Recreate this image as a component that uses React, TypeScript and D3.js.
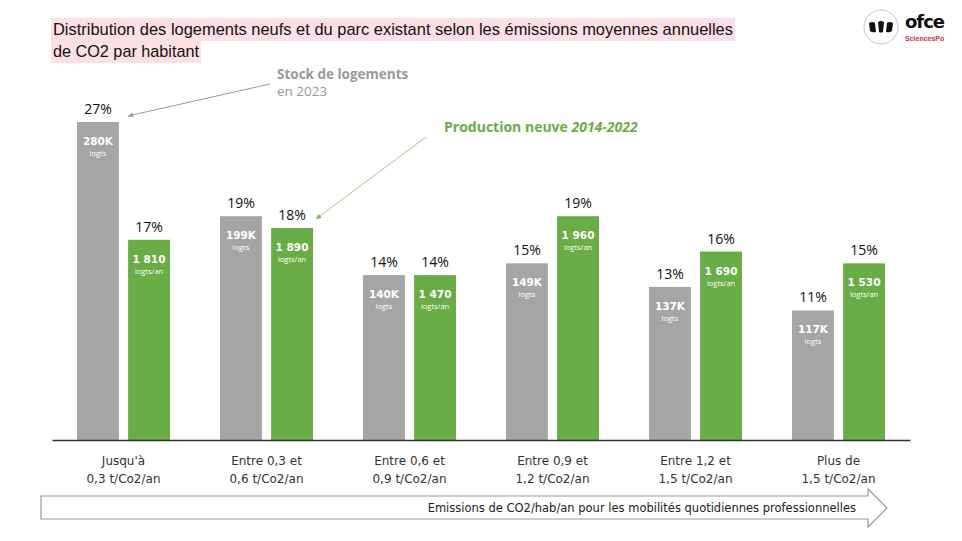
import React, { useEffect, useRef } from "react";
import { select, scaleBand, scaleLinear, axisBottom } from "d3";

// tranches d'émissions (t CO2 / hab / an, mobilités domicile-travail)
const categories = ["c1", "c2", "c3", "c4", "c5", "c6"];
const catLine1 = ["Jusqu'à", "Entre 0,3 et", "Entre 0,6 et", "Entre 0,9 et", "Entre 1,2 et", "Plus de"];
const catLine2 = ["0,3 t/Co2/an", "0,6 t/Co2/an", "0,9 t/Co2/an", "1,2 t/Co2/an", "1,5 t/Co2/an", "1,5 t/Co2/an"];

// parc existant 2023
const stockPct = [27, 19, 14, 15, 13, 11];
const stockCount = ["280K", "199K", "140K", "149K", "137K", "117K"];

// production neuve 2014-2022
const newPct = [17, 18, 14, 19, 16, 15];
const newCount = ["1 810", "1 890", "1 470", "1 960", "1 690", "1 530"];

const GRAY = "#a5a5a5";
const GREEN = "#6aac46";
const FONT = "'Open Sans', 'Noto Sans', sans-serif";
const WIDE = "'DejaVu Sans', sans-serif";

const App = () => {
  const svgRef = useRef<SVGSVGElement>(null);

  useEffect(() => {
    const svg = select(svgRef.current);
    svg.selectAll("*").remove();

    const x = scaleBand().domain(categories).range([52, 910]).paddingInner(0.35).paddingOuter(0.175);
    const sub = scaleBand().domain(["stock", "neuf"]).range([0, x.bandwidth()]).paddingInner(0.18);
    const y = scaleLinear().domain([0, 27]).range([440, 122]);

    // titre surligné
    const title = svg.append("g");
    title.append("rect").attr("x", 51).attr("y", 18).attr("width", 684).attr("height", 23).attr("fill", "#fde0e6");
    title.append("rect").attr("x", 51).attr("y", 41).attr("width", 150).attr("height", 22).attr("fill", "#fde0e6");
    title
      .append("text")
      .attr("x", 53)
      .attr("y", 35)
      .attr("textLength", 680)
      .attr("lengthAdjust", "spacingAndGlyphs")
      .style("font", "17px 'Liberation Sans Narrow', 'Liberation Sans', sans-serif")
      .attr("fill", "#111")
      .text("Distribution des logements neufs et du parc existant selon les émissions moyennes annuelles");
    title
      .append("text")
      .attr("x", 53)
      .attr("y", 57)
      .attr("textLength", 146)
      .attr("lengthAdjust", "spacingAndGlyphs")
      .style("font", "17px 'Liberation Sans Narrow', 'Liberation Sans', sans-serif")
      .attr("fill", "#111")
      .text("de CO2 par habitant");

    // logo
    const logo = svg.append("g");
    logo.append("circle").attr("cx", 881).attr("cy", 27).attr("r", 17).attr("fill", "white").attr("stroke", "#c8c8c8");
    logo
      .append("path")
      .attr(
        "d",
        "M869,23 Q872,21 875,23 L876,32 Q872,33 870,31 Z M878,22 Q881,20 884,22 L883,32 Q881,33 879,32 Z M887,23 Q890,21 893,23 L892,31 Q890,33 886,32 Z"
      )
      .attr("fill", "#111");
    logo
      .append("text")
      .attr("x", 905)
      .attr("y", 28)
      .style("font", "bold 18px 'DejaVu Sans', sans-serif")
      .attr("letter-spacing", -1)
      .attr("fill", "#111")
      .text("ofce");
    logo
      .append("text")
      .attr("x", 905)
      .attr("y", 41)
      .style("font", "bold 7px 'Liberation Sans', sans-serif")
      .attr("fill", "#e2264d")
      .text("SciencesPo");

    // flèches d'annotation
    const defs = svg.append("defs");
    const mk = (id: string, color: string) =>
      defs
        .append("marker")
        .attr("id", id)
        .attr("viewBox", "0 0 10 10")
        .attr("refX", 9)
        .attr("refY", 5)
        .attr("markerWidth", 6)
        .attr("markerHeight", 6)
        .attr("orient", "auto")
        .append("path")
        .attr("d", "M0,1 L10,5 L0,9 Z")
        .attr("fill", color);
    mk("ahGray", "#999");
    mk("ahGreen", "#7fb85a");

    // barres
    const groups = svg
      .selectAll(".grp")
      .data(categories)
      .join("g")
      .attr("class", "grp")
      .attr("transform", (d) => `translate(${x(d)},0)`);

    const drawSeries = (
      key: string,
      color: string,
      pct: number[],
      count: string[],
      unit: string
    ) => {
      const g = groups.append("g");
      g.append("rect")
        .attr("x", sub(key)!)
        .attr("width", sub.bandwidth())
        .attr("y", (_, i) => y(pct[i]))
        .attr("height", (_, i) => y(0) - y(pct[i]))
        .attr("fill", color);
      const cx = sub(key)! + sub.bandwidth() / 2;
      g.append("text")
        .attr("x", cx)
        .attr("y", (_, i) => y(pct[i]) - 8)
        .attr("text-anchor", "middle")
        .style("font", `14px ${FONT}`)
        .attr("fill", "#111")
        .text((_, i) => `${pct[i]}%`);
      g.append("text")
        .attr("x", cx)
        .attr("y", (_, i) => y(pct[i]) + 23)
        .attr("text-anchor", "middle")
        .style("font", `bold 10.5px ${WIDE}`)
        .attr("fill", "white")
        .text((_, i) => count[i]);
      g.append("text")
        .attr("x", cx)
        .attr("y", (_, i) => y(pct[i]) + 34)
        .attr("text-anchor", "middle")
        .style("font", `7.5px ${FONT}`)
        .attr("fill", "white")
        .text(unit);
    };
    drawSeries("stock", GRAY, stockPct, stockCount, "logts");
    drawSeries("neuf", GREEN, newPct, newCount, "logts/an");

    // axe des x
    const axis = svg
      .append("g")
      .attr("transform", "translate(0,440)")
      .call(axisBottom(x).tickSize(0).tickSizeOuter(0).tickFormat(() => ""));
    axis.select(".domain").attr("stroke", "#333").attr("stroke-width", 1.3);

    const labels = svg
      .selectAll(".xlab")
      .data(categories)
      .join("text")
      .attr("class", "xlab")
      .attr("text-anchor", "middle")
      .style("font", `12px ${WIDE}`)
      .attr("fill", "#333");
    labels
      .append("tspan")
      .attr("x", (d) => x(d)! + x.bandwidth() / 2)
      .attr("y", 465)
      .text((_, i) => catLine1[i]);
    labels
      .append("tspan")
      .attr("x", (d) => x(d)! + x.bandwidth() / 2)
      .attr("y", 483)
      .text((_, i) => catLine2[i]);

    // grande flèche du bas
    svg
      .append("path")
      .attr("d", "M41,496 L868,496 L868,489 L887,508 L868,527 L868,519 L41,519 Z")
      .attr("fill", "white")
      .attr("stroke", "#9a9a9a")
      .attr("stroke-width", 1.2);
    svg
      .append("text")
      .attr("x", 856)
      .attr("y", 512)
      .attr("text-anchor", "end")
      .style("font", `11.5px ${WIDE}`)
      .attr("fill", "#222")
      .text("Emissions de CO2/hab/an pour les mobilités quotidiennes professionnelles");

    // annotations
    const stockX = x("c1")! + sub("stock")! + sub.bandwidth();
    svg
      .append("line")
      .attr("x1", 270)
      .attr("y1", 84)
      .attr("x2", stockX + 9)
      .attr("y2", y(stockPct[0]) - 6)
      .attr("stroke", "#999")
      .attr("marker-end", "url(#ahGray)");
    svg
      .append("text")
      .attr("x", 277)
      .attr("y", 79)
      .style("font", `bold 13.5px ${FONT}`)
      .attr("fill", "#999")
      .text("Stock de logements");
    svg
      .append("text")
      .attr("x", 277)
      .attr("y", 96)
      .style("font", `13.5px ${FONT}`)
      .attr("fill", "#999")
      .text("en 2023");

    const newX = x("c2")! + sub("neuf")! + sub.bandwidth();
    svg
      .append("line")
      .attr("x1", 426)
      .attr("y1", 137)
      .attr("x2", newX + 3)
      .attr("y2", y(newPct[1]) - 9)
      .attr("stroke", "#9fc985")
      .attr("marker-end", "url(#ahGreen)");
    const prod = svg
      .append("text")
      .attr("x", 444)
      .attr("y", 132)
      .style("font", `bold 14px ${FONT}`)
      .attr("fill", GREEN);
    prod.append("tspan").text("Production neuve ");
    prod.append("tspan").style("font-style", "italic").text("2014-2022");
  }, []);

  return (
    <svg
      ref={svgRef}
      width={962}
      height={541}
      style={{ position: "absolute", left: 0, top: 0, background: "white" }}
    />
  );
};

export default App;
